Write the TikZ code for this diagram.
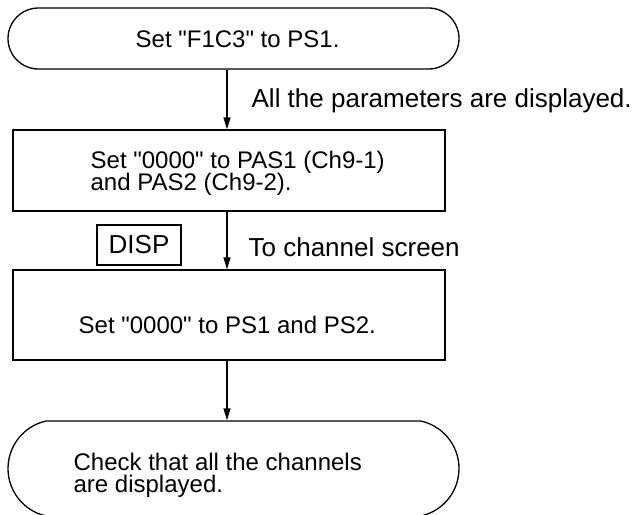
\documentclass[tikz,border=0pt]{standalone}
\usepackage{fontspec}
\setmainfont{Liberation Sans}
\usetikzlibrary{shapes.misc,arrows.meta}
\begin{document}
\begin{tikzpicture}[x=1pt,y=-1pt,
  line width=1.3pt,
  term/.style={rounded rectangle, draw, inner sep=0pt},
  box/.style={rectangle, draw, inner sep=0pt},
  txt/.style={inner sep=0pt, font=\fontsize{24}{22.5}\selectfont},
  lbl/.style={inner sep=0pt, font=\fontsize{26}{26}\selectfont},
  arr/.style={-{Triangle[length=12pt,width=7pt]}}]
\useasboundingbox (0,0) rectangle (639,514);
\coordinate (ax) at (227,0);
% shapes
\node[term, minimum width=451pt, minimum height=61pt] (t1) at (233.5,38.5) {};
\node[box, minimum width=432pt, minimum height=81pt] (b1) at (229,170.5) {};
\node[box, minimum width=432pt, minimum height=90pt] (b2) at (229,315) {};
\node[term, rounded rectangle arc length=155, minimum width=451pt, minimum height=95pt] (t2) at (233.5,468.5) {};
\node[box, lbl, minimum width=84pt, minimum height=40pt] (disp) at (139,245) {DISP};
% texts
\node[txt, anchor=base west] (t1t) at (135,47) {Set \textquotedbl F1C3\textquotedbl{} to PS1.};
\node[txt, anchor=base west] (b1a) at (90,168) {Set \textquotedbl 0000\textquotedbl{} to PAS1 (Ch9-1)};
\node[txt, anchor=base west] (b1b) at (90,190) {and PAS2 (Ch9-2).};
\node[txt, anchor=base west] (b2t) at (78,333) {Set \textquotedbl 0000\textquotedbl{} to PS1 and PS2.};
\node[txt, anchor=base west] (t2a) at (73,470) {Check that all the channels};
\node[txt, anchor=base west] (t2b) at (73,492.5) {are displayed.};
\node[lbl, anchor=base west] (l1) at (251,107.5) {All the parameters are displayed.};
\node[lbl, anchor=base west] (l2) at (248,256) {To channel screen};
% connectors
\draw[arr] (t1.south -| ax) -- (b1.north -| ax);
\draw[arr] (b1.south -| ax) -- (b2.north -| ax);
\draw[arr] (b2.south -| ax) -- (t2.north -| ax);
\end{tikzpicture}
\end{document}
